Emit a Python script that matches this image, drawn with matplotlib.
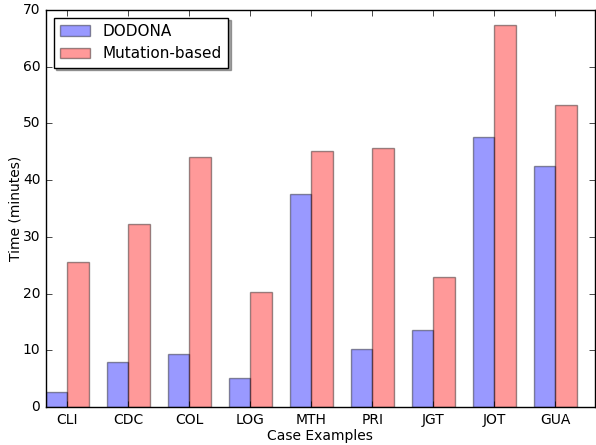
import numpy as np
import matplotlib
matplotlib.use('Agg')
import matplotlib.pyplot as plt

plt.style.use('classic')

cases = ['CLI', 'CDC', 'COL', 'LOG', 'MTH', 'PRI', 'JGT', 'JOT', 'GUA']
dodona = [2.7, 7.9, 9.3, 5.2, 37.5, 10.2, 13.5, 47.7, 42.5]
mutation = [25.6, 32.2, 44.0, 20.3, 45.2, 45.6, 23.0, 67.3, 53.2]

ind = np.arange(len(cases))
width = 0.35

fig = plt.figure(figsize=(5.96, 4.45), dpi=100)
ax = fig.add_axes([0.077, 0.0854, 0.921, 0.892])

ax.bar(ind, dodona, width, color='b', alpha=0.4, align='edge', label='DODONA')
ax.bar(ind + width, mutation, width, color='r', alpha=0.4, align='edge', label='Mutation-based')

ax.set_xlim(0, 9)
ax.set_ylim(0, 70)
ax.set_xticks(ind + width)
ax.set_xticklabels(cases)
ax.tick_params(labelsize=10)
ax.set_xlabel('Case Examples', fontsize=10, labelpad=2)
ax.set_ylabel('Time (minutes)', fontsize=10, labelpad=0)

leg = ax.legend(loc='upper left', shadow=True, fontsize=11)

fig.savefig('out.png', dpi=100)
